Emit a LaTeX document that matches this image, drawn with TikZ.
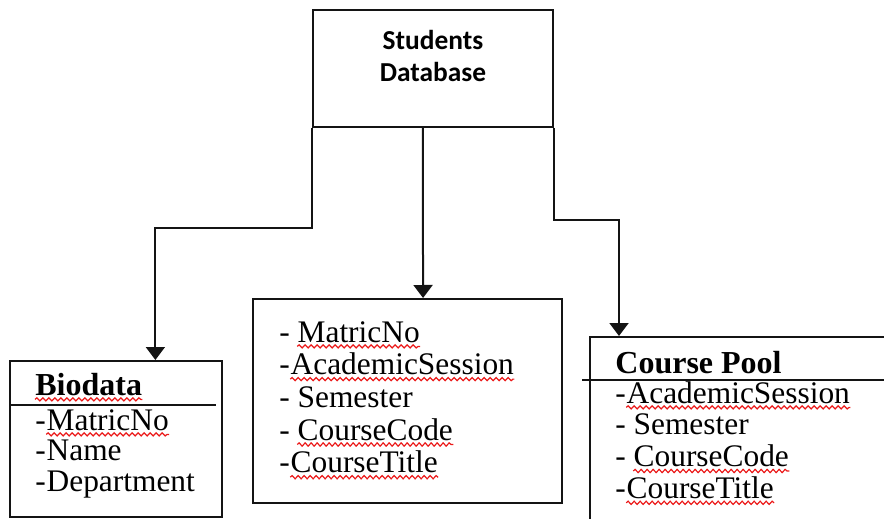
\documentclass[tikz,border=0pt]{standalone}
\usepackage{fontspec}
\setmainfont{Liberation Serif}
\newfontfamily\calibri{Carlito}
\usetikzlibrary{arrows.meta,positioning,calc,decorations.pathmorphing}
\definecolor{ink}{RGB}{20,20,20}
\definecolor{typored}{RGB}{235,25,25}
\newcommand\gap{\kern3.5pt}
\tikzset{
  tbl/.style={draw=ink,line width=1pt,inner sep=0pt},
  rule/.style={draw=ink,line width=1pt},
  hdr/.style={anchor=base west,inner sep=0pt,font=\fontsize{16}{16}\selectfont\bfseries},
  fld/.style={anchor=base west,inner sep=0pt,font=\fontsize{15.7}{16}\selectfont},
  arr/.style={-{Triangle[length=6.5pt,width=9.5pt]},line width=1pt,draw=ink},
  wave/.style={draw=typored,line width=0.6pt,decorate,
    decoration={snake,amplitude=0.8pt,segment length=3pt}},
}

\begin{document}
\begin{tikzpicture}[x=0.5pt,y=-0.5pt]
\useasboundingbox (0,0) rectangle (884,519);
\clip (0,0) rectangle (884,519);
% boxes
\node[tbl,minimum width=120pt,minimum height=58.5pt] (db) at (433,68.5) {};
\node[font=\fontsize{13.7}{16}\selectfont\calibri\bfseries,align=center] (dbname) at (433,56) {Students\\Database};
\node[tbl,minimum width=106pt,minimum height=78pt] (bio) at (116,439) {};
\node[tbl,minimum width=154.5pt,minimum height=102pt] (mid) at (407.5,401) {};
\node[tbl,minimum width=157pt,minimum height=101.5pt] (cp) at (747,438.5) {};
% header rules
\draw[rule] ($(bio.north west)+(0,45)$) -- ++(207,0);
\draw[rule] ($(cp.north west)+(-7,44)$) -- ++(320,0);
% headers
\node[hdr] (biohdr) at (35,395) {Biodata};
\draw[wave] ([yshift=-2.2pt]biohdr.base west) -- ([yshift=-2.2pt]biohdr.base east);
\node[hdr] (cphdr) at (615,373) {Course Pool};
% fields: prefix / word / spell mark
\foreach \p/\w/\u [count=\i] in {-/MatricNo/1,-/Name/0,-/Department/0}{
  \node[fld] (bio-p\i) at (35,{430+30.5*(\i-1)}) {\p};
  \node[fld] (bio-\i) at (bio-p\i.base east) {\w};
  \ifnum\u=1 \draw[wave] ([yshift=-2.2pt]bio-\i.base west) -- ([yshift=-2.2pt]bio-\i.base east); \fi
}
\foreach \p/\w/\u [count=\i] in {-\gap/MatricNo/1,-/AcademicSession/1,-\gap/Semester/0,-\gap/CourseCode/1,-/CourseTitle/1}{
  \node[fld] (mid-p\i) at (279,{342+32.7*(\i-1)}) {\p};
  \node[fld] (mid-\i) at (mid-p\i.base east) {\w};
  \ifnum\u=1 \draw[wave] ([yshift=-2.2pt]mid-\i.base west) -- ([yshift=-2.2pt]mid-\i.base east); \fi
}
\foreach \p/\w/\u [count=\i] in {-/AcademicSession/1,-\gap/Semester/0,-\gap/CourseCode/1,-/CourseTitle/1}{
  \node[fld] (cp-p\i) at (615,{403+31.8*(\i-1)}) {\p};
  \node[fld] (cp-\i) at (cp-p\i.base east) {\w};
  \ifnum\u=1 \draw[wave] ([yshift=-2.2pt]cp-\i.base west) -- ([yshift=-2.2pt]cp-\i.base east); \fi
}
% connectors
\draw[arr] (db.south west) -- ++(0,100) -| ($(bio.north west)!0.684!(bio.north east)$);
\draw[arr] ($(db.south west)!0.458!(db.south east)$) -- ($(mid.north west)!0.55!(mid.north east)$);
\draw[arr] (db.south east) -- ++(0,92) -| ($(cp.north west)+(30,0)$);
\end{tikzpicture}
\end{document}
